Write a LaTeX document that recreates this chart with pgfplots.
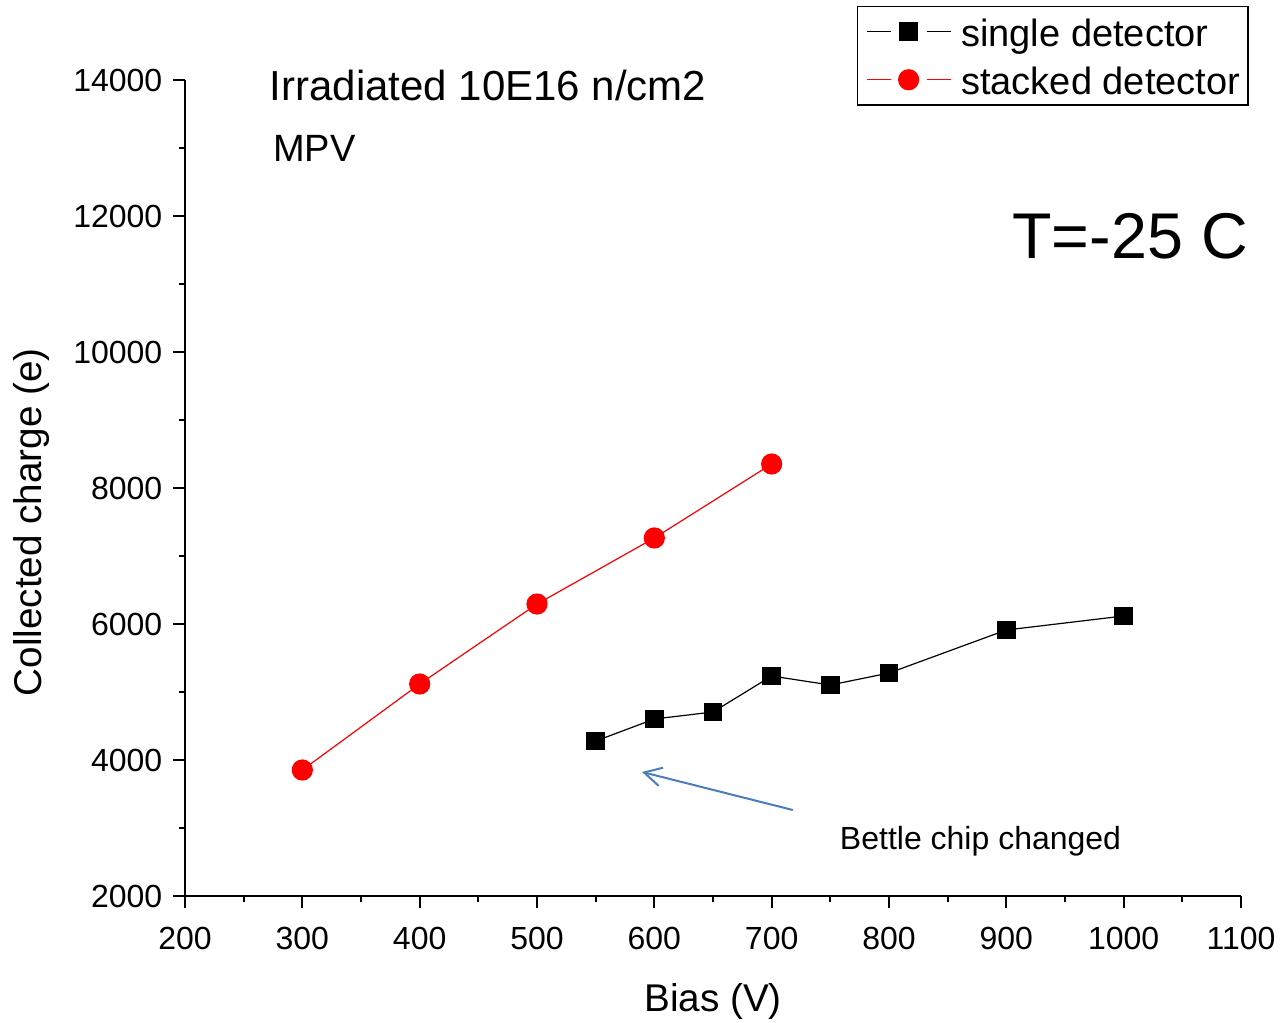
\documentclass[border=0pt]{standalone}
\usepackage{fontspec}
\setmainfont{Liberation Sans}
\usepackage{pgfplots}
\pgfplotsset{compat=1.18}
\usetikzlibrary{arrows.meta}
\definecolor{arrowblue}{HTML}{4A7EBB}

\begin{document}
\begin{tikzpicture}
\begin{axis}[
  scale only axis,
  width=792pt, height=612pt,
  xmin=200, xmax=1100, ymin=2000, ymax=14000,
  axis lines=left, axis line style={-, line width=1.8pt},
  xtick={200,300,...,1100}, ytick={2000,4000,...,14000},
  scaled ticks=false,
  minor tick num=1,
  tick align=outside,
  major tick length=9pt, minor tick length=4.5pt,
  every tick/.style={black, line width=1.6pt},
  /pgf/number format/assume math mode=true,
  /pgf/number format/1000 sep={},
  ticklabel style={font=\fontsize{24}{28}\selectfont},
  xticklabel style={yshift=-11pt},
  yticklabel style={xshift=-4.5pt},
  every axis x label/.style={at={(axis description cs:0.5,-0.1287)}, anchor=center},
  every axis y label/.style={at={(axis description cs:-0.1449,0.458)}, rotate=90, anchor=center},
  label style={font=\fontsize{29}{32}\selectfont},
  xlabel={Bias (V)}, ylabel={Collected charge (e)},
  clip=false,
  legend cell align=left,
  legend style={at={(rel axis cs:0.636,1.091)}, anchor=north west,
    draw=black, line width=1pt, font=\fontsize{28.5}{32}\selectfont,
    inner sep=1pt, row sep=0pt,
    nodes={text height=24pt, text depth=2pt, inner sep=5pt}},
  legend image code/.code={
    \path[draw=none] (0pt,0pt) -- (72pt,0pt);
    \draw[#1, mark=none] (6pt,0pt) -- (24pt,0pt);
    \draw[#1, mark=none] (51pt,0pt) -- (69pt,0pt);
    \draw[#1, only marks] plot coordinates {(37.5pt,0pt)};
  },
]
\addplot[black, line width=0.9pt, mark=square*, mark size=6.5pt, mark options={solid}] coordinates {
  (550,4279) (600,4603) (650,4706) (700,5235) (750,5103) (800,5279) (900,5912) (1000,6118)
};
\addlegendentry{single detector}
\addplot[red, line width=0.9pt, mark=*, mark size=7.5pt, mark options={solid, fill=red}] coordinates {
  (300,3853) (400,5118) (500,6294) (600,7265) (700,8353)
};
\addlegendentry{stacked detector}

\node[anchor=west, inner sep=0pt, font=\fontsize{31.5}{34}\selectfont] at (axis cs:272,13912) {Irradiated 10E16 n/cm2};
\node[anchor=west, inner sep=0pt, font=\fontsize{28.5}{32}\selectfont] at (axis cs:275,13000) {MPV};
\node[anchor=east, inner sep=0pt, font=\fontsize{48.5}{54}\selectfont] at (axis cs:1106,11706) {T=-25 C};
\node[anchor=center, inner sep=0pt, font=\fontsize{24}{28}\selectfont] at (axis cs:878,2809) {Bettle chip changed};
\draw[arrowblue, line width=1.5pt, -{Straight Barb[length=13pt, width=14pt]}] (axis cs:718,3265) -- (axis cs:589.5,3824);

\coordinate (sw) at (rel axis cs:0,0);
\coordinate (ne) at (rel axis cs:1,1);
\end{axis}
\pgfresetboundingbox
\useasboundingbox ([shift={(-138.75pt,-94.5pt)}]sw) rectangle ([shift={(30.75pt,60pt)}]ne);
\end{tikzpicture}
\end{document}
